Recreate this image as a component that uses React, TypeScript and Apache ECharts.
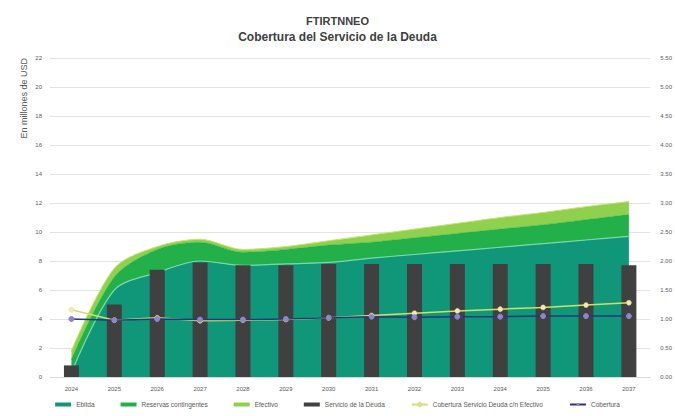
import React, { useEffect, useRef } from "react";
import * as echarts from "echarts";

const years = ["2024", "2025", "2026", "2027", "2028", "2029", "2030", "2031", "2032", "2033", "2034", "2035", "2036", "2037"];
const ebitda = [0.3, 6.0, 7.2, 8.0, 7.7, 7.8, 7.9, 8.2, 8.45, 8.7, 8.95, 9.2, 9.45, 9.7];
const reservas = [0.9, 0.9, 1.6, 1.3, 0.9, 1.0, 1.2, 1.1, 1.15, 1.2, 1.25, 1.3, 1.4, 1.5];
const efectivo = [0.6, 0.6, 0.2, 0.2, 0.2, 0.2, 0.3, 0.5, 0.6, 0.7, 0.8, 0.85, 0.9, 0.9];
const servicio = [0.8, 5.0, 7.4, 7.9, 7.7, 7.7, 7.8, 7.8, 7.8, 7.8, 7.8, 7.8, 7.8, 7.7];
const coberturaConEf = [1.16, 0.98, 1.02, 0.97, 0.98, 0.99, 1.02, 1.06, 1.1, 1.14, 1.17, 1.2, 1.24, 1.28];
const cobertura = [1.0, 0.98, 1.0, 0.99, 0.99, 1.0, 1.02, 1.04, 1.03, 1.04, 1.04, 1.05, 1.05, 1.05];

const FONT = "Liberation Sans";
const TXT = "#595959";

export default function App() {
  const ref = useRef<HTMLDivElement>(null);
  useEffect(() => {
    if (!ref.current) return;
    const chart = echarts.init(ref.current, null, { renderer: "svg" });
    chart.setOption({
      animation: false,
      backgroundColor: "#ffffff",
      textStyle: { fontFamily: FONT },
      title: [
        {
          text: "FTIRTNNEO",
          left: "center",
          top: 10,
          textStyle: { fontSize: 11, fontWeight: "bold", color: "#404040", fontFamily: FONT },
        },
        {
          text: "Cobertura del Servicio de la Deuda",
          left: "center",
          top: 26,
          textStyle: { fontSize: 12, fontWeight: "bold", color: "#404040", fontFamily: FONT },
        },
      ],
      grid: { left: 50, right: 24, top: 58, bottom: 39 },
      legend: {
        bottom: 3,
        left: "center",
        itemWidth: 16,
        itemHeight: 4,
        itemGap: 26,
        textStyle: { fontSize: 6.5, color: TXT, fontFamily: FONT },
        data: [
          { name: "Ebitda", icon: "rect" },
          { name: "Reservas contingentes", icon: "rect" },
          { name: "Efectivo", icon: "rect" },
          { name: "Servicio de la Deuda", icon: "rect" },
          { name: "Cobertura Servicio Deuda c/n Efectivo" },
          { name: "Cobertura" },
        ],
      },
      xAxis: {
        type: "category",
        data: years,
        boundaryGap: true,
        axisLine: { show: true, lineStyle: { color: "#d9d9d9" } },
        axisTick: { show: false },
        axisLabel: { fontSize: 6, color: TXT, margin: 9 },
      },
      yAxis: [
        {
          type: "value",
          min: 0,
          max: 22,
          interval: 2,
          name: "En millones de USD",
          nameLocation: "end",
          nameRotate: 90,
          nameGap: 0,
          nameTextStyle: { fontSize: 9, color: TXT, align: "right", verticalAlign: "bottom", padding: [0, 0, 22, 0] },
          axisLine: { show: false },
          axisTick: { show: false },
          axisLabel: { fontSize: 6, color: TXT, margin: 8 },
          splitLine: { lineStyle: { color: "#e3e3e3", width: 1 } },
        },
        {
          type: "value",
          min: 0,
          max: 5.5,
          interval: 0.5,
          axisLine: { show: false },
          axisTick: { show: false },
          axisLabel: { fontSize: 6, color: TXT, margin: 10, formatter: (v: number) => v.toFixed(2) },
          splitLine: { show: false },
        },
      ],
      series: [
        {
          name: "Ebitda",
          type: "line",
          stack: "total",
          data: ebitda,
          smooth: 0.3,
          symbol: "none",
          z: 1,
          color: "#10977a",
          lineStyle: { color: "#7bd6ad", width: 1.2 },
          areaStyle: { color: "#10977a", opacity: 1 },
        },
        {
          name: "Reservas contingentes",
          type: "line",
          stack: "total",
          data: reservas,
          smooth: 0.3,
          symbol: "none",
          z: 1,
          color: "#23b04b",
          lineStyle: { color: "#23b04b", width: 0.5 },
          areaStyle: { color: "#23b04b", opacity: 1 },
        },
        {
          name: "Efectivo",
          type: "line",
          stack: "total",
          data: efectivo,
          smooth: 0.3,
          symbol: "none",
          z: 1,
          color: "#8fd14f",
          lineStyle: { color: "#c7e56b", width: 1 },
          areaStyle: { color: "#8fd14f", opacity: 1 },
        },
        {
          name: "Servicio de la Deuda",
          type: "bar",
          data: servicio,
          barWidth: 15,
          z: 5,
          color: "#404040",
          itemStyle: { color: "#404040" },
        },
        {
          name: "Cobertura Servicio Deuda c/n Efectivo",
          type: "line",
          yAxisIndex: 1,
          data: coberturaConEf,
          symbol: "circle",
          symbolSize: 5,
          z: 8,
          color: "#d4e36a",
          lineStyle: { color: "#cfe067", width: 1.5 },
          itemStyle: { color: "#f3eab0", borderColor: "#e0d98a", borderWidth: 0.5 },
        },
        {
          name: "Cobertura",
          type: "line",
          yAxisIndex: 1,
          data: cobertura,
          symbol: "circle",
          symbolSize: 5,
          z: 9,
          color: "#203a7a",
          lineStyle: { color: "#203a7a", width: 1.5 },
          itemStyle: { color: "#8f85cf", borderColor: "#8f85cf" },
        },
      ],
    });
    return () => chart.dispose();
  }, []);
  return <div ref={ref} style={{ position: "fixed", left: 0, top: 0, width: 675, height: 416 }} />;
}
